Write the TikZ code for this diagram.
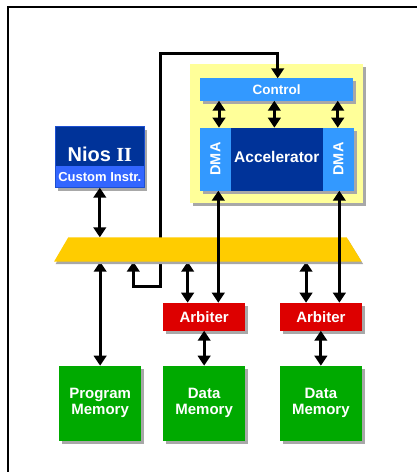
\documentclass[tikz,border=0pt]{standalone}
\usepackage{fontspec}
\setmainfont{Liberation Sans}
\newfontfamily\serifface{Liberation Serif}
\usetikzlibrary{arrows.meta,shadows,calc}

\definecolor{niosblue}{HTML}{003399}
\definecolor{customblue}{HTML}{3366FF}
\definecolor{ctrlblue}{HTML}{3399FF}
\definecolor{accpanel}{HTML}{FFFF99}
\definecolor{busgold}{HTML}{FFCC00}
\definecolor{arbred}{HTML}{DD0000}
\definecolor{memgreen}{HTML}{00AA00}
\definecolor{shadowgray}{HTML}{A8A8A8}

\tikzset{
  block/.style={inner sep=0pt, outer sep=0pt, text=white, font=\bfseries,
    align=center},
  shadowed/.style={drop shadow={shadow xshift=3pt, shadow yshift=-3pt,
    fill=shadowgray, opacity=1}},
  dbl/.style={line width=3pt, {Triangle[width=12.5pt,length=10pt]}-{Triangle[width=12.5pt,length=10pt]}},
}

\begin{document}
\begin{tikzpicture}[x=1pt, y=-1pt]
\useasboundingbox (0,0) rectangle (417,472);
\fill[white] (0,0) rectangle (417,472);

% page frame
\draw[line width=2.5pt] (8,472) -- (8,7) -- (417,7);

% Nios II processor
\node[block, shadowed, fill=niosblue, draw=customblue!55!niosblue, line width=0.8pt,
      minimum width=89pt, minimum height=61pt] (nios) at (99.8,157.2) {};
\node[block, fill=customblue, minimum width=88pt, minimum height=21.5pt,
      font=\bfseries\fontsize{13}{14}\selectfont] (custom) at (99.8,176.6) {Custom Instr.};
\node[block, font=\bfseries\fontsize{20}{22}\selectfont] (niostext) at (99.8,154.5)
      {Nios {\serifface\bfseries II}};

% accelerator subsystem
\node[block, shadowed, fill=accpanel, minimum width=173.3pt, minimum height=139.3pt]
      (panel) at (276.7,133.7) {};
\node[block, shadowed, fill=ctrlblue, minimum width=153.3pt, minimum height=22.4pt,
      font=\bfseries\fontsize{13.5}{14}\selectfont] (control) at (276.7,89.5) {Control};
\node[block, shadowed, fill=ctrlblue, minimum width=31pt, minimum height=63pt]
      (dmal) at (215.5,159.2) {};
\node[block, shadowed, fill=niosblue, minimum width=91.7pt, minimum height=63pt]
      (acc) at (276.85,159.2) {};
\node[block, shadowed, fill=ctrlblue, minimum width=31.3pt, minimum height=63pt]
      (dmar) at (338.35,159.2) {};
\node[block, font=\bfseries\fontsize{15.5}{16}\selectfont] (acctext)
      at (276.85,157) {Accelerator};
\node[block, rotate=90, font=\bfseries\fontsize{14.5}{15}\selectfont] (dmaltext)
      at (215.5,159) {DMA};
\node[block, rotate=90, font=\bfseries\fontsize{14.5}{15}\selectfont] (dmartext)
      at (338.35,159) {DMA};

% arbiters
\node[block, shadowed, fill=arbred, minimum width=81.7pt, minimum height=28pt,
      font=\bfseries\fontsize{15}{16}\selectfont] (arb1) at (204.15,316.7) {Arbiter};
\node[block, shadowed, fill=arbred, minimum width=81.7pt, minimum height=28pt,
      font=\bfseries\fontsize{15}{16}\selectfont] (arb2) at (320.85,316.7) {Arbiter};

% memories
\tikzset{mem/.style={block, shadowed, fill=memgreen, minimum width=81.7pt,
      minimum height=75pt, font=\bfseries\fontsize{15}{16}\selectfont}}
\node[mem] (pm)  at (100.15,403.2) {Program\\Memory};
\node[mem] (dm1) at (204.15,403.2) {Data\\Memory};
\node[mem] (dm2) at (320.85,403.2) {Data\\Memory};

% bus edges
\coordinate (bus-t) at (0,237.3);
\coordinate (bus-b) at (0,261.7);

% connector anchor points
\coordinate (c1) at ($(dmal.north)+(3.5,0)$);
\coordinate (c2) at ($(acc.north)+(-2.5,0)$);
\coordinate (c3) at ($(dmar.north)+(-0.6,0)$);
\coordinate (d1) at ($(dmal.south)+(2.8,0)$);
\coordinate (d2) at ($(dmar.south)+(1,0)$);
\coordinate (a1) at ($(arb1.north)+(-16.5,0)$);
\coordinate (a2) at ($(arb2.north)+(-14.8,0)$);
\coordinate (ctl) at ($(control.north)+(1,0)$);
\coordinate (loopx) at (133.3,286.7);
\coordinate (riser) at (160.3,53.3);

% connectors that stay behind the bus
\draw[dbl] (c1 |- control.south) -- (c1);
\draw[dbl] (c2 |- control.south) -- (c2);
\draw[dbl] (c3 |- control.south) -- (c3);
\draw[dbl] (nios.south) -- (nios.south |- bus-t);
\draw[dbl] (pm.north |- bus-b) -- (pm.north);
\draw[dbl] (a1 |- bus-b) -- (a1);
\draw[dbl] (a2 |- bus-b) -- (a2);
\draw[dbl] (arb1.south) -- (dm1.north);
\draw[dbl] (arb2.south) -- (dm2.north);
\draw[dbl] (loopx |- bus-b) -- (loopx) -| (riser) -| (ctl);

% system bus
\fill[shadowgray] (69.8,239.8) -- (348.2,239.8) -- (363.2,264.2) -- (55.5,264.2) -- cycle;
\fill[busgold] (68.3,237.3) -- (346.7,237.3) -- (361.7,261.7) -- (54,261.7) -- cycle;

% DMA channels cross over the bus
\draw[dbl] (d1) -- (d1 |- arb1.north);
\draw[dbl] (d2) -- (d2 |- arb2.north);
\end{tikzpicture}
\end{document}
